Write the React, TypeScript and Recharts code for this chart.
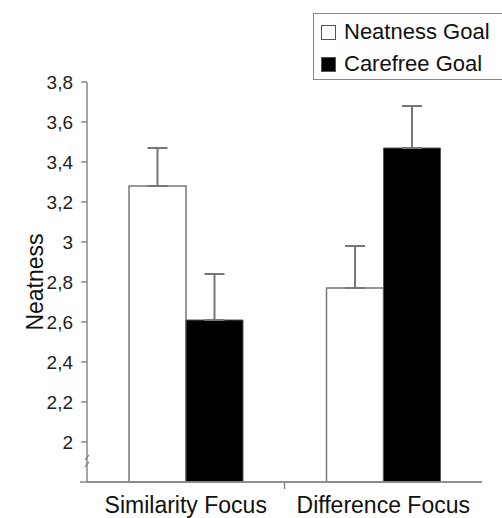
import { Bar, BarChart, ErrorBar, Legend, ReferenceLine, XAxis, YAxis } from "recharts";

const categories = ["Similarity Focus", "Difference Focus"];
const seriesNames = ["Neatness Goal", "Carefree Goal"];
const neatnessGoal = [3.28, 2.77];
const carefreeGoal = [2.61, 3.47];
const neatnessError = [0.19, 0.21];
const carefreeError = [0.23, 0.21];
const yTicks = [2, 2.2, 2.4, 2.6, 2.8, 3, 3.2, 3.4, 3.6, 3.8];
const yDomain = [1.8, 3.8];

const data = categories.map((name, i) => ({
  name,
  neatness: neatnessGoal[i],
  carefree: carefreeGoal[i],
  neatnessErr: [0, neatnessError[i]],
  carefreeErr: [0, carefreeError[i]],
}));

const FONT = "'Liberation Sans', Arial, sans-serif";
const AXIS_GRAY = "#888";

const formatTick = (value: number) => String(value).replace(".", ",");

const CategoryTick = ({ x, y, payload, index }: any) => {
  const half = payload?.offset ?? 99;
  return (
    <g>
      <text
        x={x}
        y={y}
        dy="0.72em"
        textAnchor="middle"
        fontSize={23}
        fontFamily={FONT}
        fill="#111"
      >
        {payload.value}
      </text>
      {index === 0 && (
        <line
          x1={x + half}
          x2={x + half}
          y1={y - 14}
          y2={y - 7}
          stroke={AXIS_GRAY}
          strokeWidth={1.5}
        />
      )}
    </g>
  );
};

// little break marks on the value axis between 1,8 and 2
const AxisBreak = ({ x1, y1 }: any) => (
  <g>
    <rect x={x1 - 4} y={y1 - 4} width={8} height={8} fill="#fff" />
    <path
      d={`M${x1 - 2},${y1 - 2} q2,-3 4,-5`}
      stroke={AXIS_GRAY}
      strokeWidth={1.3}
      fill="none"
    />
    <path
      d={`M${x1 - 2},${y1 + 5} q2,-3 4,-5`}
      stroke={AXIS_GRAY}
      strokeWidth={1.3}
      fill="none"
    />
  </g>
);

// base line reaching a bit left of the value axis
const BaseLine = ({ x1, y1, x2 }: any) => (
  <line x1={x1 - 7} x2={x2} y1={y1} y2={y1} stroke={AXIS_GRAY} strokeWidth={1.5} />
);

// box runs off the right edge of the picture, so no right border
const LegendBox = ({ payload }: any) => {
  const items = [...(payload ?? [])].sort(
    (a: any, b: any) => seriesNames.indexOf(a.value) - seriesNames.indexOf(b.value),
  );
  return (
    <div
      style={{
        width: 189,
        height: 67,
        boxSizing: "border-box",
        borderTop: `1.5px solid ${AXIS_GRAY}`,
        borderBottom: `1.5px solid ${AXIS_GRAY}`,
        borderLeft: `1.5px solid ${AXIS_GRAY}`,
        background: "#fff",
        fontFamily: FONT,
        fontSize: 22,
        color: "#111",
        padding: "2px 0 0 7px",
        whiteSpace: "nowrap",
        overflow: "hidden",
      }}
    >
      {items.map((entry: any) => (
        <div
          key={entry.value}
          style={{ display: "flex", alignItems: "center", height: 32 }}
        >
          <span
            style={{
              display: "inline-block",
              width: 15,
              height: 15,
              boxSizing: "border-box",
              background: entry.payload?.fill ?? entry.color,
              border: "1.5px solid #555",
              marginRight: 8,
            }}
          />
          {entry.value}
        </div>
      ))}
    </div>
  );
};

export default function App() {
  return (
    <div
      style={{
        position: "absolute",
        left: 0,
        top: 0,
        width: 502,
        height: 518,
        overflow: "hidden",
        background: "#fff",
      }}
    >
      <BarChart
        width={502}
        height={518}
        data={data}
        margin={{ top: 82, right: 20, left: 0, bottom: 0 }}
        barGap={0}
        barSize={57}
      >
        <XAxis
          dataKey="name"
          height={36}
          tickLine={false}
          tickSize={0}
          tickMargin={14}
          axisLine={{ stroke: AXIS_GRAY, strokeWidth: 1.5 }}
          tick={<CategoryTick />}
          interval={0}
        />
        <YAxis
          width={87}
          domain={yDomain}
          ticks={yTicks}
          tickFormatter={formatTick}
          tickSize={6}
          tickMargin={8}
          axisLine={{ stroke: AXIS_GRAY, strokeWidth: 1.5 }}
          tickLine={{ stroke: AXIS_GRAY, strokeWidth: 1.5 }}
          tick={{ fill: "#222", fontSize: 19, fontFamily: FONT }}
          label={{
            value: "Neatness",
            angle: -90,
            position: "center",
            dx: -9,
            fill: "#111",
            fontSize: 23,
            fontFamily: FONT,
          }}
        />
        <Legend
          layout="vertical"
          align="center"
          verticalAlign="middle"
          wrapperStyle={{ top: 13, left: 313, width: 189 }}
          content={<LegendBox />}
        />
        <Bar
          dataKey="neatness"
          name={seriesNames[0]}
          fill="#ffffff"
          stroke="#777"
          strokeWidth={1.5}
          isAnimationActive={false}
        >
          <ErrorBar dataKey="neatnessErr" width={10} stroke="#777" strokeWidth={2} />
        </Bar>
        <Bar
          dataKey="carefree"
          name={seriesNames[1]}
          fill="#000000"
          stroke="#555"
          strokeWidth={1}
          isAnimationActive={false}
        >
          <ErrorBar dataKey="carefreeErr" width={10} stroke="#777" strokeWidth={2} />
        </Bar>
        <ReferenceLine y={1.9} stroke="none" shape={<AxisBreak />} />
        <ReferenceLine y={1.8} stroke="none" shape={<BaseLine />} />
      </BarChart>
    </div>
  );
}
